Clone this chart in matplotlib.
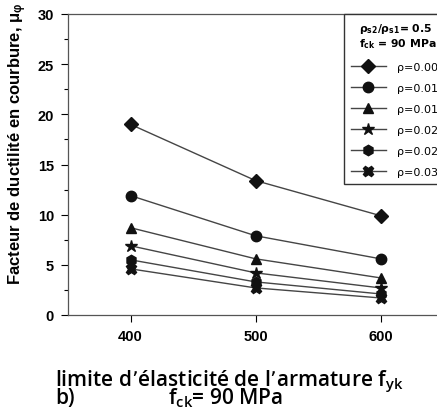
import matplotlib
matplotlib.use("Agg")
import matplotlib.pyplot as plt

plt.rcParams['mathtext.default'] = 'regular'

fyk = [400, 500, 600]
rho_labels = ['ρ=0.005', 'ρ=0.010', 'ρ=0.015', 'ρ=0.020', 'ρ=0.025', 'ρ=0.030']
mu_005 = [19.0, 13.4, 9.9]
mu_010 = [11.9, 7.9, 5.6]
mu_015 = [8.7, 5.6, 3.7]
mu_020 = [6.9, 4.2, 2.7]
mu_025 = [5.5, 3.3, 2.1]
mu_030 = [4.6, 2.7, 1.7]
series = [mu_005, mu_010, mu_015, mu_020, mu_025, mu_030]
markers = ['D', 'o', '^', '*', 'h', 'X']
msizes = [7, 7.5, 7, 9, 7.5, 7.5]
yticks = [0, 5, 10, 15, 20, 25, 30]

W, H = 437, 414
fig = plt.figure(figsize=(W / 100, H / 100), dpi=100)
left_px, right_px, top_px, bottom_px = 68, 445.5, 15, 316
ax = fig.add_axes([left_px / W, 1 - bottom_px / H, (right_px - left_px) / W, (bottom_px - top_px) / H])

for vals, m, ms, lab in zip(series, markers, msizes, rho_labels):
    ax.plot(fyk, vals, color='#454545', lw=1.0, marker=m, ms=ms,
            mfc='#111111', mec='#111111', label=lab)

ax.set_xlim(350, 652)
ax.set_ylim(0, 30)
ax.set_xticks(fyk)
ax.set_yticks(yticks)
ax.set_yticks([2.5, 7.5, 12.5, 17.5, 22.5, 27.5], minor=True)
ax.tick_params(axis='both', which='major', direction='out', length=5, width=0.8,
               labelsize=10.5, pad=5)
ax.tick_params(axis='y', which='minor', direction='out', length=3, width=0.8)
for lbl in ax.get_xticklabels() + ax.get_yticklabels():
    lbl.set_fontweight('bold')
    lbl.set_family('Liberation Sans')
for s in ax.spines.values():
    s.set_color('#555555')
    s.set_linewidth(0.9)

ax.set_ylabel('Facteur de ductilité en courbure, $\\mu_{\\varphi}$', fontsize=12,
              fontweight='bold', family='Liberation Sans')
ax.yaxis.set_label_coords(-(68 - 29) / (right_px - left_px), (316 - 144) / (bottom_px - top_px))

leg = ax.legend(loc='upper left', bbox_to_anchor=((344 - left_px) / (right_px - left_px), 1.0),
                title='$\\rho_{s2}/\\rho_{s1}$= 0.5\n$f_{ck}$ = 90 MPa',
                fontsize=8, title_fontsize=7.8, frameon=True, fancybox=False,
                edgecolor='#333333', framealpha=1, labelspacing=1.0,
                handlelength=3.2, handletextpad=1.0, borderpad=0.6, borderaxespad=0)
leg.get_frame().set_linewidth(1.0)
leg.get_title().set_fontweight('bold')

fig.text(55 / W, 1 - 386 / H, "limite d’élasticité de l’armature f$_{yk}$", fontsize=15,
         family='Open Sans', fontweight='semibold', ha='left', va='baseline')
fig.text(55 / W, 1 - 404 / H, "b)", fontsize=15,
         family='Open Sans', fontweight='semibold', ha='left', va='baseline')
fig.text(168 / W, 1 - 404 / H, "f$_{ck}$= 90 MPa", fontsize=15,
         family='Open Sans', fontweight='semibold', ha='left', va='baseline')

fig.savefig('out.png', dpi=100)
